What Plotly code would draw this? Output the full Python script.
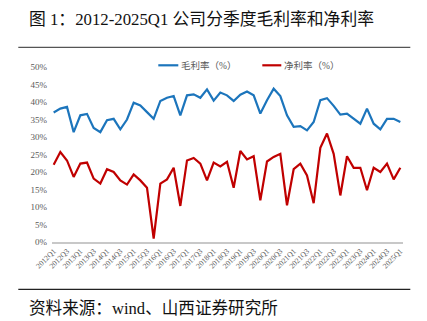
import plotly.graph_objects as go

quarters = [
    "2012Q1", "2012Q2", "2012Q3", "2012Q4", "2013Q1", "2013Q2", "2013Q3", "2013Q4",
    "2014Q1", "2014Q2", "2014Q3", "2014Q4", "2015Q1", "2015Q2", "2015Q3", "2015Q4",
    "2016Q1", "2016Q2", "2016Q3", "2016Q4", "2017Q1", "2017Q2", "2017Q3", "2017Q4",
    "2018Q1", "2018Q2", "2018Q3", "2018Q4", "2019Q1", "2019Q2", "2019Q3", "2019Q4",
    "2020Q1", "2020Q2", "2020Q3", "2020Q4", "2021Q1", "2021Q2", "2021Q3", "2021Q4",
    "2022Q1", "2022Q2", "2022Q3", "2022Q4", "2023Q1", "2023Q2", "2023Q3", "2023Q4",
    "2024Q1", "2024Q2", "2024Q3", "2024Q4", "2025Q1",
]
tick_labels = [
    "2012Q1", "2012Q3", "2013Q1", "2013Q3", "2014Q1", "2014Q3", "2015Q1", "2015Q3",
    "2016Q1", "2016Q3", "2017Q1", "2017Q3", "2018Q1", "2018Q3", "2019Q1", "2019Q3",
    "2020Q1", "2020Q3", "2021Q1", "2021Q3", "2022Q1", "2022Q3", "2023Q1", "2023Q3",
    "2024Q1", "2024Q3", "2025Q1",
]
gross_margin = [
    37.0, 38.1, 38.6, 31.4, 36.2, 36.6, 32.6, 31.4, 34.8, 35.2,
    32.2, 35.0, 39.8, 39.0, 37.1, 35.2, 40.3, 41.2, 41.7, 36.2,
    41.9, 42.2, 41.2, 43.6, 40.4, 42.7, 41.9, 40.3, 42.1, 43.0,
    41.9, 36.7, 40.5, 43.8, 41.7, 36.2, 32.9, 33.1, 31.9, 34.3,
    40.5, 41.1, 38.9, 36.4, 36.7, 35.2, 33.8, 38.1, 33.8, 32.2,
    35.2, 35.2, 34.3,
]
net_margin = [
    22.1, 25.7, 23.3, 18.6, 22.4, 22.7, 18.1, 16.7, 20.8, 20.0,
    17.6, 16.4, 19.3, 17.6, 15.5, 1.0, 16.7, 17.9, 21.2, 10.3,
    23.3, 24.0, 22.4, 17.6, 22.7, 21.6, 22.9, 15.5, 26.0, 23.6,
    24.5, 11.9, 23.0, 24.3, 25.2, 10.5, 20.8, 22.4, 19.0, 11.1,
    26.9, 31.0, 25.2, 13.3, 24.5, 21.2, 21.2, 14.8, 21.2, 20.0,
    22.4, 17.9, 21.2,
]
y_ticks = [0, 5, 10, 15, 20, 25, 30, 35, 40, 45, 50]

W, H = 427, 321
L, R, T, B = 51.7, 402.7, 66.7, 241.7
PW, PH = R - L, B - T


def xp(px):
    return (px - L) / PW


def yp(py):
    return (B - py) / PH


BLUE = "#1C75BC"
RED = "#C00000"
GRAY = "#595959"
SERIF = "Liberation Serif, Times New Roman, Noto Sans CJK SC, serif"

fig = go.Figure()
fig.add_trace(go.Scatter(x=quarters, y=gross_margin, mode="lines",
                         line=dict(color=BLUE, width=2.2), name="毛利率（%）"))
fig.add_trace(go.Scatter(x=quarters, y=net_margin, mode="lines",
                         line=dict(color=RED, width=2.2), name="净利率（%）"))

shapes = [
    dict(type="line", xref="paper", yref="paper", x0=xp(18), x1=xp(410), y0=yp(47), y1=yp(47),
         line=dict(color="#555555", width=1.2)),
    dict(type="line", xref="paper", yref="paper", x0=xp(18), x1=xp(410), y0=yp(289), y1=yp(289),
         line=dict(color="#222222", width=1.2)),
    dict(type="line", xref="paper", yref="paper", x0=xp(158), x1=xp(178), y0=yp(65), y1=yp(65),
         line=dict(color=BLUE, width=2.2)),
    dict(type="line", xref="paper", yref="paper", x0=xp(262), x1=xp(281), y0=yp(65), y1=yp(65),
         line=dict(color=RED, width=2.2)),
]
annotations = [
    dict(text="图 1：2012-2025Q1 公司分季度毛利率和净利率", xref="paper", yref="paper",
         x=xp(27), y=yp(19), xanchor="left", yanchor="middle", showarrow=False,
         font=dict(family=SERIF, size=16.8, color="#111111")),
    dict(text="资料来源：wind、山西证券研究所", xref="paper", yref="paper",
         x=xp(27), y=yp(308), xanchor="left", yanchor="middle", showarrow=False,
         font=dict(family=SERIF, size=16.6, color="#111111")),
    dict(text="毛利率（%）", xref="paper", yref="paper",
         x=xp(179), y=yp(65), xanchor="left", yanchor="middle", showarrow=False,
         font=dict(family=SERIF, size=9.5, color=GRAY)),
    dict(text="净利率（%）", xref="paper", yref="paper",
         x=xp(282), y=yp(65), xanchor="left", yanchor="middle", showarrow=False,
         font=dict(family=SERIF, size=9.5, color=GRAY)),
]

fig.update_layout(
    width=W, height=H,
    margin=dict(l=L, r=W - R, t=T, b=H - B),
    paper_bgcolor="white", plot_bgcolor="white",
    showlegend=False,
    shapes=shapes, annotations=annotations,
    xaxis=dict(type="category", range=[-0.25, len(quarters) - 0.6],
               tickvals=tick_labels, ticktext=tick_labels, tickangle=-45,
               tickfont=dict(family=SERIF, size=7.6, color=GRAY),
               showgrid=False, showline=True, linecolor="#C8C8C8", linewidth=1.5,
               ticks="", zeroline=False),
    yaxis=dict(range=[0, 50], tickvals=y_ticks, ticktext=[f"{v}%" for v in y_ticks],
               tickfont=dict(family=SERIF, size=9, color=GRAY),
               showgrid=False, showline=False, zeroline=False, ticks="",
               ticklabelstandoff=4),
)

fig.write_html("out.html")
